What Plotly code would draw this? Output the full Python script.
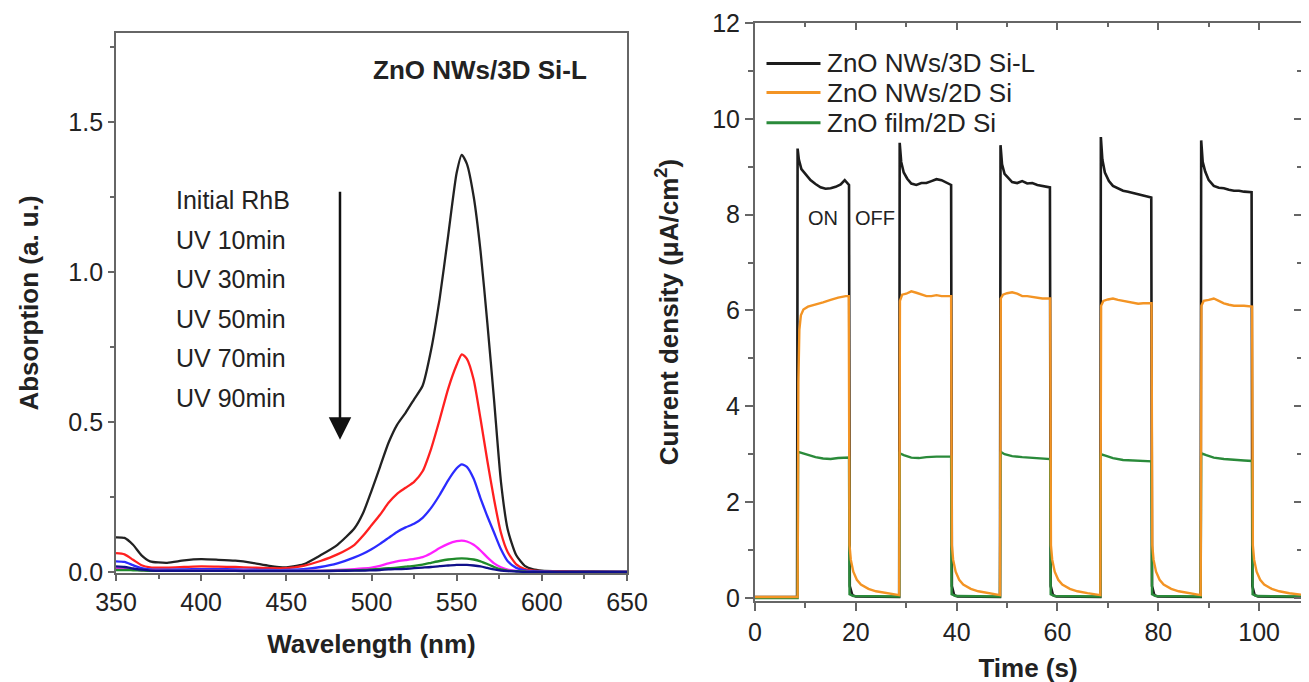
import plotly.graph_objects as go

# ---------------- Left panel data: absorption spectra ----------------
wavelength = [350, 355, 360, 365, 370, 380, 390, 400, 410, 420, 430, 440, 450,
              460, 470, 480, 490, 495, 500, 505, 510, 515, 520, 525, 530, 535,
              540, 545, 550, 553, 556, 560, 564, 568, 572, 576, 580, 585, 590,
              595, 600, 610, 630, 650]

abs_initial = [0.115, 0.113, 0.09, 0.055, 0.035, 0.03, 0.038, 0.042, 0.04, 0.037, 0.03, 0.02, 0.015,
               0.025, 0.055, 0.09, 0.145, 0.195, 0.27, 0.35, 0.43, 0.49, 0.53, 0.575, 0.62, 0.74,
               0.91, 1.12, 1.33, 1.39, 1.36, 1.25, 1.07, 0.83, 0.57, 0.30, 0.14, 0.055, 0.02,
               0.008, 0.004, 0.002, 0.001, 0.0]
abs_10 = [0.062, 0.058, 0.04, 0.022, 0.015, 0.014, 0.016, 0.018, 0.017, 0.016, 0.014, 0.012, 0.012,
          0.02, 0.036, 0.058, 0.09, 0.12, 0.155, 0.19, 0.23, 0.26, 0.28, 0.30, 0.335, 0.41,
          0.507, 0.61, 0.69, 0.725, 0.71, 0.64, 0.51, 0.37, 0.24, 0.13, 0.065, 0.025, 0.009,
          0.004, 0.002, 0.001, 0.0, 0.0]
abs_30 = [0.035, 0.033, 0.022, 0.012, 0.008, 0.007, 0.008, 0.009, 0.009, 0.008, 0.007, 0.006, 0.006,
          0.009, 0.016, 0.028, 0.048, 0.06, 0.075, 0.093, 0.113, 0.133, 0.148, 0.16, 0.18, 0.213,
          0.256, 0.305, 0.345, 0.358, 0.35, 0.31, 0.245, 0.185, 0.13, 0.075, 0.035, 0.013, 0.005,
          0.002, 0.001, 0.0, 0.0, 0.0]
abs_50 = [0.012, 0.011, 0.008, 0.005, 0.004, 0.003, 0.003, 0.004, 0.004, 0.004, 0.003, 0.003, 0.003,
          0.003, 0.004, 0.006, 0.009, 0.011, 0.014, 0.02, 0.028, 0.035, 0.039, 0.043, 0.049, 0.062,
          0.079, 0.093, 0.102, 0.104, 0.101, 0.09, 0.071, 0.048, 0.028, 0.015, 0.007, 0.003, 0.001,
          0.0, 0.0, 0.0, 0.0, 0.0]
abs_70 = [0.006, 0.006, 0.005, 0.004, 0.003, 0.003, 0.003, 0.003, 0.003, 0.003, 0.003, 0.003, 0.003,
          0.003, 0.003, 0.004, 0.005, 0.006, 0.008, 0.01, 0.012, 0.014, 0.017, 0.02, 0.024, 0.03,
          0.036, 0.041, 0.044, 0.045, 0.044, 0.041, 0.035, 0.026, 0.016, 0.008, 0.004, 0.002, 0.001,
          0.0, 0.0, 0.0, 0.0, 0.0]
abs_90 = [0.018, 0.016, 0.011, 0.007, 0.004, 0.003, 0.003, 0.003, 0.003, 0.003, 0.002, 0.002, 0.002,
          0.002, 0.002, 0.003, 0.004, 0.004, 0.005, 0.006, 0.008, 0.009, 0.01, 0.012, 0.014, 0.016,
          0.019, 0.021, 0.023, 0.023, 0.023, 0.021, 0.018, 0.013, 0.008, 0.004, 0.002, 0.001, 0.0,
          0.0, 0.0, 0.0, 0.0, 0.0]

spectra_labels = ["Initial RhB", "UV 10min", "UV 30min", "UV 50min", "UV 70min", "UV 90min"]
spectra = [abs_initial, abs_10, abs_30, abs_50, abs_70, abs_90]
spectra_colors = ["#222222", "#ff2020", "#2b2bff", "#ff20ff", "#1f8a2a", "#10108a"]

# ---------------- Right panel data: photocurrent ----------------
t_black = [0, 8.35, 8.45, 8.7, 9.2, 10, 11, 12, 13, 14, 15, 16, 17, 17.8, 18.3, 18.65, 18.8, 19.3, 20,
           28.6, 28.7, 29.0, 29.5, 30.2, 31, 32, 33, 34, 35, 36, 37, 38, 38.9, 39.05, 39.5, 40.2,
           48.6, 48.7, 49.0, 49.5, 50.3, 51, 52, 53, 54, 55, 56, 57, 58.5, 58.65, 59.1, 59.8,
           68.5, 68.6, 68.9, 69.4, 70.2, 71, 72, 73, 74, 75, 76, 77, 78.6, 78.75, 79.2, 79.9,
           88.4, 88.5, 88.8, 89.3, 90, 91, 92, 93, 94, 95, 96, 97, 98.5, 98.65, 99.1, 99.8, 108.3]
j_black = [0.02, 0.02, 9.38, 9.15, 8.95, 8.85, 8.72, 8.64, 8.57, 8.54, 8.55, 8.58, 8.63, 8.72, 8.66, 8.62, 0.25, 0.06, 0.03,
           0.02, 9.5, 9.1, 8.88, 8.75, 8.65, 8.62, 8.66, 8.66, 8.70, 8.74, 8.72, 8.66, 8.62, 0.25, 0.06, 0.03,
           0.02, 9.45, 9.05, 8.85, 8.75, 8.68, 8.66, 8.70, 8.65, 8.66, 8.62, 8.60, 8.57, 0.25, 0.06, 0.03,
           0.02, 9.62, 9.15, 8.88, 8.70, 8.60, 8.55, 8.50, 8.48, 8.45, 8.42, 8.40, 8.36, 0.25, 0.06, 0.03,
           0.02, 9.55, 9.10, 8.90, 8.72, 8.60, 8.56, 8.55, 8.52, 8.50, 8.50, 8.48, 8.47, 0.25, 0.06, 0.03, 0.02]

t_orange = [0, 8.45, 8.6, 8.8, 9.1, 9.6, 10.5, 12, 13.5, 15, 16.5, 18, 18.6,
            18.75, 19.0, 19.5, 20.2, 21, 22.5, 24, 26, 28.6,
            28.75, 29.2, 30, 31, 32, 33, 34, 35, 36, 37, 38.9,
            39.05, 39.3, 39.8, 40.5, 41.3, 42.8, 44.3, 46.3, 48.6,
            48.75, 49.2, 50, 51, 52, 53, 54, 55, 56, 57, 58.55,
            58.7, 58.95, 59.45, 60.15, 60.95, 62.45, 63.95, 65.95, 68.5,
            68.65, 69.1, 70, 71, 72, 73, 74, 75, 76, 77, 78.65,
            78.8, 79.05, 79.55, 80.25, 81.05, 82.55, 84.05, 86.05, 88.4,
            88.55, 89, 90, 91, 92, 93, 94, 95, 96, 97, 98.6,
            98.75, 99.0, 99.5, 100.2, 101, 102.5, 104, 106, 108.3]
j_orange = [0.02, 0.02, 4.5, 5.6, 5.9, 6.02, 6.08, 6.12, 6.17, 6.22, 6.27, 6.30, 6.30,
            1.1, 0.8, 0.55, 0.38, 0.28, 0.19, 0.14, 0.10, 0.06,
            6.2, 6.33, 6.35, 6.40, 6.37, 6.33, 6.30, 6.30, 6.32, 6.30, 6.30,
            1.1, 0.8, 0.55, 0.38, 0.28, 0.19, 0.14, 0.10, 0.06,
            6.25, 6.33, 6.36, 6.38, 6.35, 6.30, 6.30, 6.28, 6.26, 6.25, 6.25,
            1.1, 0.8, 0.55, 0.38, 0.28, 0.19, 0.14, 0.10, 0.06,
            6.10, 6.20, 6.23, 6.25, 6.22, 6.20, 6.18, 6.15, 6.14, 6.15, 6.15,
            1.1, 0.8, 0.55, 0.38, 0.28, 0.19, 0.14, 0.10, 0.06,
            6.10, 6.20, 6.22, 6.25, 6.20, 6.15, 6.12, 6.10, 6.10, 6.10, 6.08,
            1.1, 0.8, 0.55, 0.38, 0.28, 0.19, 0.14, 0.10, 0.07]

t_green = [0, 8.45, 8.55, 9.5, 10.5, 12, 13.5, 15, 16.5, 18, 18.65, 18.75, 19.5, 28.6,
           28.7, 29.5, 31, 32.5, 34, 36, 38.9, 39.0, 39.8, 48.6,
           48.7, 49.5, 51, 53, 55, 57, 58.55, 58.65, 59.4, 68.5,
           68.6, 69.5, 71, 73, 75, 77, 78.65, 78.75, 79.5, 88.4,
           88.5, 89.5, 91, 93, 95, 97, 98.6, 98.7, 99.5, 108.3]
j_green = [0.0, 0.0, 3.05, 3.02, 2.98, 2.94, 2.91, 2.90, 2.92, 2.93, 2.93, 0.08, 0.04, 0.03,
           3.02, 2.98, 2.93, 2.92, 2.94, 2.95, 2.95, 0.08, 0.04, 0.03,
           3.05, 3.00, 2.96, 2.94, 2.93, 2.91, 2.90, 0.08, 0.04, 0.03,
           3.00, 2.97, 2.92, 2.88, 2.87, 2.86, 2.85, 0.08, 0.04, 0.03,
           3.02, 2.98, 2.93, 2.90, 2.88, 2.87, 2.86, 0.08, 0.04, 0.03]

pc_names = ["ZnO NWs/3D Si-L", "ZnO NWs/2D Si", "ZnO film/2D Si"]
pc_colors = ["#1c1c1c", "#f39424", "#2a8a3a"]

# ---------------- figure ----------------
W, H = 1309, 682
PAGE_OFFSET = 8  # the page body margin shifts the figure by this many px
FONT = "Liberation Sans, Arial, Helvetica, sans-serif"
AX = "#666666"
TXT = "#222222"


def fx(px):
    return (px - PAGE_OFFSET) / W


def fy(py):
    return 1 - (py - PAGE_OFFSET) / H


fig = go.Figure()

for lab, vals, col in zip(spectra_labels, spectra, spectra_colors):
    fig.add_trace(go.Scatter(x=wavelength, y=vals, mode="lines", name=lab,
                             line=dict(color=col, width=2.3, shape="spline", smoothing=0.6),
                             xaxis="x", yaxis="y", showlegend=False))

# draw order: black, green, orange (orange on top at baseline)
fig.add_trace(go.Scatter(x=t_black, y=j_black, mode="lines", name=pc_names[0],
                         line=dict(color=pc_colors[0], width=2.6), xaxis="x2", yaxis="y2",
                         showlegend=False))
fig.add_trace(go.Scatter(x=t_green, y=j_green, mode="lines", name=pc_names[2],
                         line=dict(color=pc_colors[2], width=2.4), xaxis="x2", yaxis="y2",
                         showlegend=False))
fig.add_trace(go.Scatter(x=t_orange, y=j_orange, mode="lines", name=pc_names[1],
                         line=dict(color=pc_colors[1], width=2.4), xaxis="x2", yaxis="y2",
                         showlegend=False))

tickfont = dict(family=FONT, size=25, color=TXT)
titlefont = dict(family=FONT, size=26, color=TXT, weight="bold")

fig.update_layout(
    template="none",
    width=W, height=H, margin=dict(l=0, r=0, t=0, b=0, autoexpand=False),
    paper_bgcolor="white", plot_bgcolor="white",
    xaxis=dict(domain=[fx(116), fx(627)], range=[350, 650], tickmode="linear", tick0=350, dtick=50,
               ticks="outside", ticklen=6, tickwidth=1.5, tickcolor=AX, automargin=False,
               minor=dict(dtick=25, ticks="outside", ticklen=4, tickcolor=AX, tickwidth=1.5),
               showline=True, linecolor=AX, linewidth=1.8, mirror=True, showgrid=False,
               zeroline=False, tickfont=tickfont, anchor="y",
               title=dict(text="Wavelength (nm)", font=titlefont, standoff=20)),
    yaxis=dict(domain=[fy(573), fy(33)], range=[-0.004, 1.796], tickmode="linear", tick0=0,
               dtick=0.5, tickformat=".1f", automargin=False,
               ticks="outside", ticklen=6, tickwidth=1.5, tickcolor=AX,
               minor=dict(dtick=0.25, ticks="outside", ticklen=4, tickcolor=AX, tickwidth=1.5),
               showline=True, linecolor=AX, linewidth=1.8, mirror=True, showgrid=False,
               zeroline=False, tickfont=tickfont, anchor="x",
               title=dict(text="Absorption (a. u.)", font=titlefont, standoff=22)),
    xaxis2=dict(domain=[fx(755), fx(1301)], range=[0, 108.3], tickmode="linear", tick0=0, dtick=20,
                ticks="outside", ticklen=8, tickwidth=1.5, tickcolor=AX, automargin=False,
                minor=dict(dtick=10, ticks="outside", ticklen=5, tickcolor=AX, tickwidth=1.5),
                showline=True, linecolor=AX, linewidth=2, mirror=True, showgrid=False,
                zeroline=False, tickfont=tickfont, anchor="y2",
                title=dict(text="Time (s)", font=titlefont, standoff=14)),
    yaxis2=dict(domain=[fy(601), fy(23)], range=[-0.063, 12], tickmode="linear", tick0=0, dtick=2,
                ticks="outside", ticklen=8, tickwidth=1.5, tickcolor=AX, automargin=False,
                minor=dict(dtick=1, ticks="outside", ticklen=5, tickcolor=AX, tickwidth=1.5),
                showline=True, linecolor=AX, linewidth=2, mirror=True, showgrid=False,
                zeroline=False, tickfont=tickfont, anchor="x2",
                title=dict(text="Current density (μA/cm<sup>2</sup>)", font=titlefont, standoff=26)),
    # mirrored inside ticks on top / right of the photocurrent panel
    xaxis3=dict(overlaying="x2", anchor="y2", side="top", range=[0, 108.3], tickmode="linear",
                tick0=0, dtick=20, ticks="inside", ticklen=7, tickwidth=1.5, tickcolor=AX,
                minor=dict(dtick=10, ticks="inside", ticklen=4, tickcolor=AX, tickwidth=1.5),
                showticklabels=False, showline=False, showgrid=False, zeroline=False, automargin=False),
    yaxis3=dict(overlaying="y2", anchor="x2", side="right", range=[-0.063, 12], tickmode="linear",
                tick0=0, dtick=2, ticks="inside", ticklen=7, tickwidth=1.5, tickcolor=AX,
                minor=dict(dtick=1, ticks="inside", ticklen=4, tickcolor=AX, tickwidth=1.5),
                showticklabels=False, showline=False, showgrid=False, zeroline=False, automargin=False),
)

# helper traces so that the overlay tick axes are drawn
fig.add_trace(go.Scatter(x=[None], y=[None], xaxis="x3", yaxis="y2", showlegend=False, hoverinfo="skip"))
fig.add_trace(go.Scatter(x=[None], y=[None], xaxis="x2", yaxis="y3", showlegend=False, hoverinfo="skip"))

ann = []
# panel label
ann.append(dict(x=563.6, y=1.673, xref="x", yref="y", text="<b>ZnO NWs/3D Si-L</b>", showarrow=False,
                font=dict(family=FONT, size=26, color=TXT), xanchor="center", yanchor="middle"))
# spectra labels
label_y0, label_dy = 1.238, 0.1317
for i, lab in enumerate(spectra_labels):
    ann.append(dict(x=384, y=label_y0 - i * label_dy, xref="x", yref="y", text=lab, showarrow=False,
                    font=dict(family=FONT, size=25, color=TXT), xanchor="left", yanchor="middle"))
# arrow
ann.append(dict(x=481.5, y=0.44, ax=481.5, ay=1.272, xref="x", yref="y", axref="x", ayref="y",
                text="", showarrow=True, arrowhead=2, arrowsize=1.8, arrowwidth=2.5, arrowcolor="#111111",
                standoff=0, startstandoff=0))
# ON / OFF
ann.append(dict(x=13.5, y=7.94, xref="x2", yref="y2", text="ON", showarrow=False,
                font=dict(family=FONT, size=20, color=TXT)))
ann.append(dict(x=23.8, y=7.94, xref="x2", yref="y2", text="OFF", showarrow=False,
                font=dict(family=FONT, size=20, color=TXT)))

# legend for the photocurrent panel
shapes = []
leg_rows = [63.4, 92.6, 122.8]
for name, col, py in zip(pc_names, pc_colors, leg_rows):
    yy = fy(py)
    shapes.append(dict(type="line", xref="paper", yref="paper", x0=fx(766.5), x1=fx(820.5), y0=yy, y1=yy,
                       line=dict(color=col, width=3)))
    ann.append(dict(x=fx(824.5), y=yy, xref="paper", yref="paper", text=name, showarrow=False,
                    font=dict(family=FONT, size=26, color=TXT), xanchor="left", yanchor="middle"))

fig.update_layout(annotations=ann, shapes=shapes)

fig.write_html("out.html")
